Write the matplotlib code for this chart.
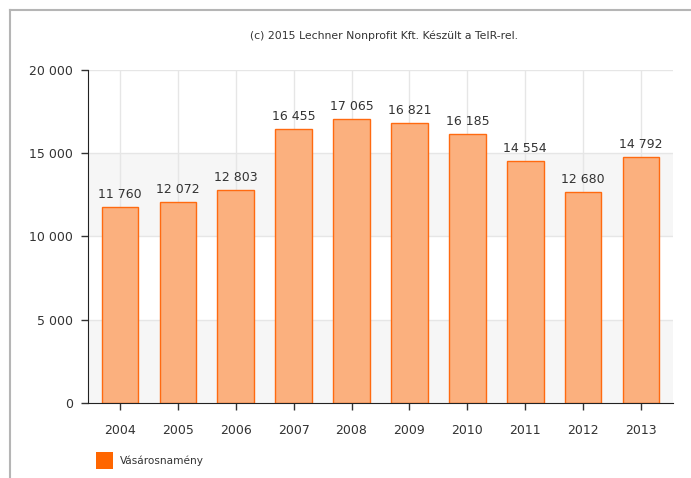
import matplotlib
matplotlib.use("Agg")
import matplotlib.pyplot as plt
from matplotlib.lines import Line2D
from matplotlib.patches import Rectangle

years = ["2004", "2005", "2006", "2007", "2008", "2009", "2010", "2011", "2012", "2013"]
values = [11760, 12072, 12803, 16455, 17065, 16821, 16185, 14554, 12680, 14792]
y_ticks = [0, 5000, 10000, 15000, 20000]
series_name = "Vásárosnamény"
credit = "(c) 2015 Lechner Nonprofit Kft. Készült a TeIR-rel."


def fmt(v):
    return f"{v:,}".replace(",", " ")


fig = plt.figure(figsize=(6.91, 4.78), dpi=100)
ax = fig.add_axes([88 / 691, 1 - 403 / 478, 585 / 691, 333 / 478])

x = list(range(len(years)))
ax.set_xlim(-0.55, len(years) - 0.45)
ax.set_ylim(0, 20000)

# alternating horizontal bands
for i in range(len(y_ticks) - 1):
    if i % 2 == 0:
        ax.axhspan(y_ticks[i], y_ticks[i + 1], color="#f6f6f6", zorder=0, lw=0)
for t in y_ticks[1:]:
    ax.axhline(t, color="#e6e6e6", lw=1, zorder=0.5)
for xi in x:
    ax.axvline(xi, color="#e6e6e6", lw=1, zorder=0.5)

ax.bar(x, values, width=0.63, color="#fbb07e", edgecolor="#ff6a10",
       linewidth=1, zorder=2)
for xi, v in zip(x, values):
    ax.text(xi, v + 350, fmt(v), ha="center", va="bottom", fontsize=9,
            color="#333333", zorder=3)

ax.set_yticks(y_ticks)
ax.set_yticklabels([fmt(t) for t in y_ticks])
ax.set_xticks(x)
ax.set_xticklabels(years)
ax.tick_params(axis="both", labelsize=9, colors="#333333", length=5,
               width=1, direction="out")
ax.tick_params(axis="x", pad=10)
ax.tick_params(axis="y", pad=6)

for s in ["top", "right"]:
    ax.spines[s].set_visible(False)
ax.spines["left"].set_color("#222222")
ax.spines["bottom"].set_color("#222222")

# outer frame (left and top lines)
fig.add_artist(Line2D([10 / 691, 10 / 691], [0, 1 - 10 / 478],
                      color="#b5b5b5", lw=1.5))
fig.add_artist(Line2D([10 / 691, 1], [1 - 10 / 478, 1 - 10 / 478],
                      color="#b5b5b5", lw=1.5))

fig.text(384 / 691, 1 - 36 / 478, credit, ha="center", va="center",
         fontsize=7.8, color="#333333")

# legend
fig.add_artist(Rectangle((96 / 691, 1 - 469 / 478), 17 / 691, 17 / 478,
                         transform=fig.transFigure, facecolor="#ff6600",
                         edgecolor="none"))
fig.text(120 / 691, 1 - 461 / 478, series_name, ha="left", va="center",
         fontsize=7.6, color="#333333")

fig.savefig("out.png", dpi=100)
